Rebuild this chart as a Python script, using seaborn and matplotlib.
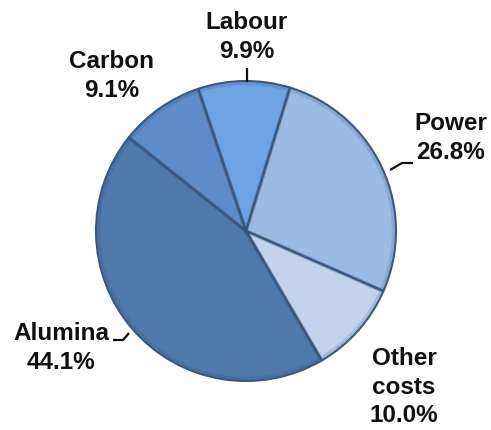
import matplotlib
matplotlib.use("Agg")
import matplotlib.pyplot as plt
import seaborn as sns

# Cost breakdown of aluminium smelting (share of total, %)
categories = ["Labour", "Power", "Other costs", "Alumina", "Carbon"]
shares = [9.9, 26.8, 10.0, 44.1, 9.1]
label_texts = ["Labour\n9.9%", "Power\n26.8%", "Other\ncosts\n10.0%", "Alumina\n44.1%", "Carbon\n9.1%"]

slice_colors = ["#6ea3e4", "#9bbbe4", "#c2d3ee", "#4f78ab", "#5d8cc8"]

sns.set_theme(style="white")
plt.rcParams["font.family"] = ["Liberation Sans", "DejaVu Sans"]

W, H = 491, 430
fig = plt.figure(figsize=(W / 100, H / 100), dpi=100)
ax = fig.add_axes([0, 0, 1, 1])

cx, cy, r = 246, H - 231, 150

wedges, _ = ax.pie(
    shares, colors=slice_colors, startangle=108.6, counterclock=False,
    center=(cx, cy), radius=r, frame=True,
    wedgeprops=dict(edgecolor="#3d5b82", linewidth=1.5),
)
# slightly darker rim around each slice for a bevelled look
ax.pie(
    shares, colors=["none"] * len(shares), startangle=108.6, counterclock=False,
    center=(cx, cy), radius=r - 2, frame=True,
    wedgeprops=dict(edgecolor=(0.2, 0.3, 0.45, 0.18), linewidth=3, fill=False),
)
ax.set_xlim(0, W)
ax.set_ylim(0, H)
ax.set_aspect("equal")
ax.axis("off")

# label anchor points in pixel layout (x, y from top)
label_pos = {
    "Labour": (247, 37),
    "Power": (451, 138),
    "Other costs": (404, 387),
    "Alumina": (61, 348),
    "Carbon": (112, 76),
}
for cat, txt in zip(categories, label_texts):
    x, y = label_pos[cat]
    ax.text(x, H - y, txt, ha="center", va="center", fontsize=17.5,
            fontweight="bold", color="#111111", linespacing=1.32)

# leader lines
lc = dict(color="#111111", linewidth=1.6, solid_capstyle="butt")
ax.plot([247, 247], [H - 68, H - 82], **lc)
ax.plot([413, 402, 390], [H - 163, H - 163, H - 170], **lc)
ax.plot([113, 123, 129], [H - 340, H - 340, H - 333], **lc)

fig.savefig("out.png", dpi=100)
